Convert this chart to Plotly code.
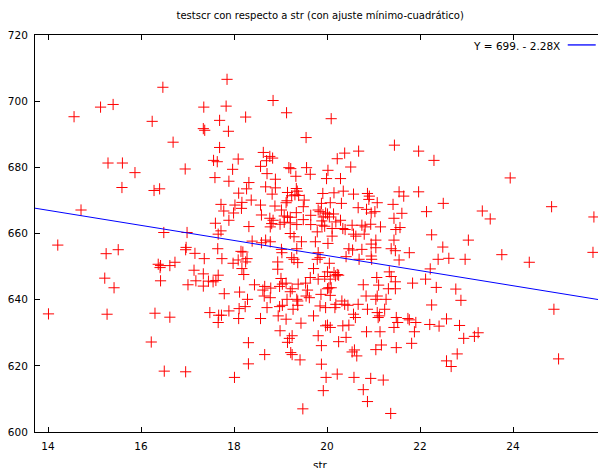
import plotly.graph_objects as go

# str (student-teacher ratio) and testscr values
str_vals = [
16.47,15.13,15.40,14.56,16.24,16.69,15.29,15.60,15.87,16.95,15.59,16.28,16.40,14.71,16.49,16.99,
14.21,15.25,15.51,16.37,16.42,16.41,16.62,16.73,16.96,16.97,17.16,17.14,15.22,15.42,16.42,17.01,17.18,14.01,15.27,16.30,16.62,16.22,16.50,16.96,
17.85,17.35,17.83,18.25,17.69,17.34,17.37,17.88,17.69,17.56,17.64,18.09,17.97,17.59,17.89,18.32,18.27,18.10,18.37,18.17,17.72,18.02,18.16,17.78,17.99,17.89,17.60,18.32,17.72,17.66,18.39,
17.65,18.15,18.19,17.36,17.74,18.09,18.28,18.25,17.98,18.17,17.34,17.66,18.21,17.61,17.55,17.45,17.34,18.44,17.79,18.12,18.29,18.24,18.11,17.89,17.48,17.67,17.73,17.66,18.10,18.31,18.31,18.01,
18.84,19.13,19.55,18.63,18.77,18.83,18.70,18.57,19.18,19.22,19.56,19.64,18.71,19.33,18.89,18.68,18.89,18.82,19.34,19.36,19.15,19.24,19.31,19.39,19.14,19.12,19.51,18.57,18.88,19.49,19.02,19.34,18.59,19.65,19.08,19.15,19.21,18.77,18.84,19.49,18.81,19.08,19.21,18.99,19.65,19.35,18.78,19.21,19.29,18.68,18.78,19.45,19.75,18.59,
19.02,19.03,19.35,19.24,19.29,19.37,18.94,18.94,19.71,19.01,19.64,19.54,19.04,19.12,18.98,19.38,18.66,18.79,18.62,19.25,19.21,19.58,18.65,18.78,19.55,19.62,19.14,19.35,19.37,19.04,18.98,19.37,18.71,19.27,18.57,18.95,19.12,19.71,19.44,18.99,19.25,19.19,19.15,18.66,19.22,19.25,19.42,19.48,
20.09,20.38,20.68,20.22,20.51,20.02,19.99,20.29,19.91,20.15,20.35,20.57,20.87,20.91,20.90,19.88,20.07,20.31,20.67,20.85,19.81,19.85,19.97,20.01,20.14,19.92,19.89,20.05,20.19,20.29,19.89,19.95,20.11,20.34,20.39,20.54,20.75,20.82,20.94,19.79,20.57,20.62,20.80,20.11,20.02,20.95,
20.47,20.55,20.75,19.81,19.85,19.79,20.41,20.69,20.05,20.01,19.95,19.81,20.15,20.22,20.18,20.25,20.07,20.04,20.01,20.09,20.78,19.87,20.07,20.84,20.32,20.45,20.38,20.67,20.19,20.17,19.85,19.97,20.87,20.57,20.61,20.01,20.07,19.97,20.34,20.47,20.85,20.41,19.81,20.25,19.88,20.54,20.59,20.64,19.88,20.22,19.98,20.58,20.94,19.92,20.78,20.87,
21.45,21.97,21.55,21.65,21.97,21.08,21.42,20.95,21.03,21.61,22.14,21.44,21.15,21.48,21.57,22.25,21.05,21.44,
21.05,21.38,21.47,21.77,20.95,20.96,21.55,22.22,22.12,21.34,21.38,21.07,21.11,21.47,21.47,21.32,21.84,21.08,21.05,21.27,22.25,21.24,21.08,21.10,21.13,21.49,21.52,21.44,21.74,21.77,21.91,22.21,21.88,21.14,21.82,21.17,21.05,21.49,21.21,21.37,
22.30,23.94,22.50,23.34,23.51,24.83,25.74,
23.04,22.49,22.39,22.62,22.97,23.76,24.35,25.72,22.35,22.77,22.88,24.88,22.57,22.41,22.85,23.25,23.17,22.94,22.80,22.57,22.67,24.98,
]
testscr_vals = [
704.2,698.2,699.0,695.3,693.9,687.6,681.3,681.3,678.4,679.5,673.9,673.0,673.5,667.1,660.3,660.3,
656.5,653.9,655.1,650.7,650.3,649.7,650.3,651.3,655.1,655.8,654.0,648.9,646.5,643.6,645.7,644.5,645.7,635.7,635.6,635.9,634.7,627.2,618.4,618.2,
706.6,698.2,698.5,695.2,694.2,691.7,691.2,690.9,686.0,682.1,681.7,682.5,679.4,676.9,675.8,675.4,673.5,672.2,670.1,669.4,668.8,668.6,667.6,666.8,666.2,664.0,663.1,662.1,660.8,659.8,657.7,
655.4,654.6,654.4,652.4,652.4,652.0,652.4,651.4,651.0,649.4,647.8,647.4,647.6,645.8,645.4,645.6,644.1,644.5,641.8,642.3,640.1,637.9,637.3,636.6,636.1,635.3,635.3,633.1,634.3,627.0,620.6,616.5,
700.2,696.5,689.0,684.5,683.3,682.8,682.0,680.3,679.9,679.6,679.9,677.9,678.1,677.3,676.4,674.1,673.8,671.9,673.6,672.8,672.4,671.4,671.7,671.5,669.9,669.3,670.1,668.6,668.3,668.1,667.1,666.3,665.6,665.5,665.3,665.0,664.9,664.6,664.0,664.2,663.0,663.4,663.2,662.8,662.7,662.7,662.0,660.0,659.0,658.0,657.5,657.5,657.5,657.2,
655.2,654.2,655.4,652.7,652.2,651.2,651.4,649.2,649.4,646.4,646.7,645.0,644.7,645.0,644.0,644.7,644.0,643.5,642.9,643.3,642.4,642.9,641.1,640.6,641.1,640.6,640.1,640.1,639.6,638.3,637.9,638.3,637.6,637.1,634.3,635.1,634.1,635.1,632.9,630.6,629.1,628.3,627.1,623.4,624.0,623.4,621.8,607.0,
694.7,684.3,684.9,682.6,680.1,679.1,676.6,676.6,672.1,672.3,672.8,671.9,672.1,671.3,670.3,669.1,669.3,669.1,667.8,667.3,667.1,666.6,666.2,665.9,665.9,665.0,663.8,665.0,663.5,664.0,662.5,662.2,661.5,661.5,661.2,662.5,662.5,662.0,662.8,660.5,659.8,659.2,659.8,659.2,657.0,656.8,
655.4,655.0,655.2,654.2,652.7,652.2,653.0,652.2,651.0,648.4,647.0,646.2,648.2,647.6,647.2,647.4,646.2,643.6,643.3,643.6,644.5,641.6,641.3,641.1,639.6,638.3,638.6,638.6,638.6,637.6,638.1,637.6,637.1,635.6,634.6,632.3,631.6,632.1,632.1,632.3,630.3,628.6,629.1,627.3,626.1,624.2,624.8,623.0,620.5,617.5,616.5,616.5,616.2,612.5,612.8,609.2,
686.7,684.9,672.6,671.3,672.6,669.3,668.8,666.2,666.6,666.1,666.6,664.6,662.0,661.2,661.8,659.6,658.0,658.0,
655.7,655.4,654.8,654.2,653.2,652.2,652.0,649.3,646.2,648.4,647.0,646.7,644.4,645.4,643.3,643.3,645.0,641.1,640.1,640.1,638.4,637.1,636.1,634.6,635.1,634.6,633.1,631.6,634.3,633.9,633.1,632.5,630.3,630.3,626.8,626.3,624.9,625.5,615.7,605.6,
682.1,676.8,669.1,666.8,664.4,668.1,665.0,
658.0,655.9,652.2,652.5,652.2,653.6,651.3,654.3,643.7,643.2,639.8,637.1,634.2,632.0,632.2,630.0,628.9,628.3,623.6,621.5,619.8,622.1,
]

intercept = 698.93
slope = -2.2798
x_range = [13.72, 26.0]
x_ticks = [14, 16, 18, 20, 22, 24, 26]
y_ticks = [600, 620, 640, 660, 680, 700, 720]
title_text = "testscr con respecto a str (con ajuste mínimo-cuadrático)"
legend_text = "Y = 699. - 2.28X"

FONT = "DejaVu Sans"

fig = go.Figure()
fig.add_trace(go.Scatter(
    x=str_vals, y=testscr_vals, mode="markers",
    marker=dict(symbol="cross-thin", size=8, line=dict(color="#ff0000", width=1)),
    showlegend=False, hoverinfo="skip"))
fig.add_trace(go.Scatter(
    x=x_range, y=[intercept + slope * v for v in x_range], mode="lines",
    line=dict(color="#0000ff", width=1), showlegend=False, hoverinfo="skip"))

fig.add_annotation(text=legend_text, xref="paper", yref="paper",
                   x=0.923, y=0.972, xanchor="right", yanchor="middle",
                   showarrow=False, font=dict(family=FONT, size=10.5, color="#000"))
fig.add_shape(type="line", xref="paper", yref="paper",
              x0=0.933, x1=0.982, y0=0.975, y1=0.975,
              line=dict(color="#0000ff", width=1.3))
fig.add_annotation(text="str", xref="paper", yref="paper", x=0.5, y=0,
                   xanchor="center", yanchor="top", yshift=-25,
                   showarrow=False, font=dict(family=FONT, size=10.5, color="#000"))

axis_common = dict(showgrid=False, zeroline=False, showline=True, linecolor="black",
                   linewidth=1, mirror="allticks", ticks="inside", ticklen=5,
                   tickcolor="black", automargin=False, ticklabelstandoff=4,
                   tickfont=dict(family=FONT, size=10.5, color="#000"))
fig.update_xaxes(range=x_range, tickvals=x_ticks, ticklabeloverflow="allow", **axis_common)
fig.update_yaxes(range=[600, 720], tickvals=y_ticks, **axis_common)

# the page body adds an 8px offset, so the figure is 8px smaller
fig.update_layout(
    width=598, height=460,
    margin=dict(l=27, r=0, t=27, b=36, autoexpand=False),
    paper_bgcolor="white", plot_bgcolor="white",
    title=dict(text=title_text, x=0.522, xanchor="center", y=0.983, yanchor="middle",
               font=dict(family=FONT, size=10, color="#000")),
)
fig.write_html("out.html")
